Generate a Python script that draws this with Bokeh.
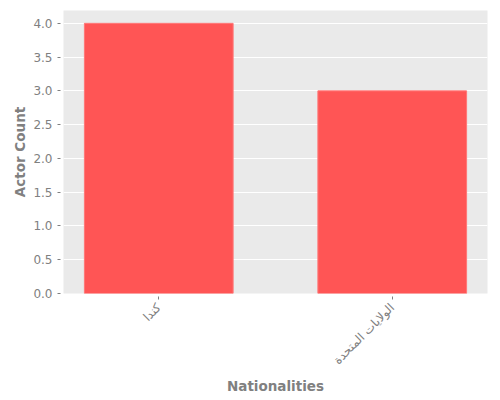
import math
from bokeh.plotting import figure
from bokeh.models import FactorRange, Range1d, SingleIntervalTicker, PrintfTickFormatter
from bokeh.embed import file_html
from bokeh.resources import INLINE

nationalities = ["كندا", "الولايات المتحدة"]
actor_counts = [4, 3]

GREY = "#808080"
FONT = "DejaVu Sans"

p = figure(
    x_range=FactorRange(factors=nationalities, range_padding=-0.092, range_padding_units="absolute"),
    y_range=Range1d(0, 4.19),
    width=495, height=395,
    frame_width=424, frame_height=283,
    min_border_left=63, min_border_top=10, min_border_right=8, min_border_bottom=102,
    output_backend="svg", toolbar_location=None,
    background_fill_color="#EAEAEA", border_fill_color="white",
)
p.outline_line_color = None

p.vbar(x=nationalities, top=actor_counts, width=0.637,
       fill_color="#FF5555", line_color="#FF7777", line_width=1)

p.yaxis.ticker = SingleIntervalTicker(interval=0.5)
p.yaxis.formatter = PrintfTickFormatter(format="%.1f")

for ax in (p.xaxis, p.yaxis):
    ax.axis_line_color = None
    ax.major_tick_line_color = GREY
    ax.major_tick_out = 6
    ax.major_tick_in = -3
    ax.minor_tick_line_color = None
    ax.major_label_text_color = GREY
    ax.major_label_text_font = FONT
    ax.major_label_text_font_size = "12px"
    ax.axis_label_text_color = GREY
    ax.axis_label_text_font = FONT
    ax.axis_label_text_font_size = "13.5px"
    ax.axis_label_text_font_style = "bold"

p.yaxis.axis_label = "Actor Count"
p.xaxis.axis_label = "Nationalities"
p.xaxis.major_label_orientation = math.pi / 4
p.yaxis.major_label_standoff = 5
p.yaxis.axis_label_standoff = 2
p.xaxis.major_label_standoff = 6
p.xaxis.axis_label_standoff = 3

p.xgrid.grid_line_color = None
p.ygrid.grid_line_color = "white"
p.ygrid.grid_line_width = 1

open("out.html", "w").write(file_html(p, INLINE))
